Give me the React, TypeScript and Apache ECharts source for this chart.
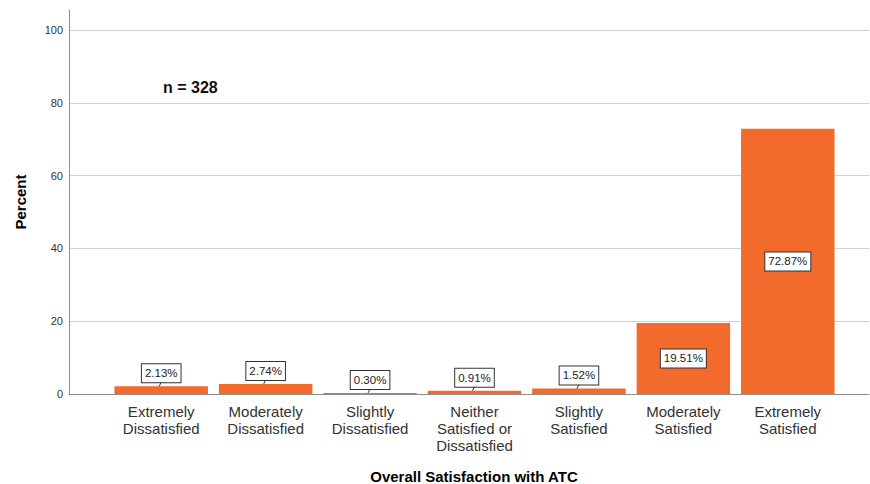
import React, { useEffect, useRef } from "react";
import * as echarts from "echarts";

const categories = [
  "Extremely\nDissatisfied",
  "Moderately\nDissatisfied",
  "Slightly\nDissatisfied",
  "Neither\nSatisfied or\nDissatisfied",
  "Slightly\nSatisfied",
  "Moderately\nSatisfied",
  "Extremely\nSatisfied",
];
const percents = [2.13, 2.74, 0.3, 0.91, 1.52, 19.51, 72.87];
const yTicks = [0, 20, 40, 60, 80, 100];
const sampleNote = "n = 328";
const xTitle = "Overall Satisfaction with ATC";
const yTitle = "Percent";

const FONT = "'Liberation Sans', Arial, sans-serif";
const ORANGE = "#F26A2C";
const INSIDE_THRESHOLD = 10;

export default function App() {
  const ref = useRef<HTMLDivElement>(null);
  useEffect(() => {
    if (!ref.current) return;
    const chart = echarts.init(ref.current, undefined, { renderer: "svg" });
    const yMax = 105.5;
    const top = 10;
    const bottom = 90;
    chart.setOption({
      animation: false,
      textStyle: { fontFamily: FONT },
      grid: [
        { left: 69, right: 1, top, bottom },
        { left: 109, right: 30, top, bottom },
      ],
      xAxis: [
        {
          gridIndex: 0,
          type: "value",
          min: 0,
          max: 1,
          axisLine: { show: true, onZero: false, lineStyle: { color: "#8c8c8c", width: 1 } },
          axisTick: { show: false },
          axisLabel: { show: false },
          splitLine: { show: false },
        },
        {
          gridIndex: 1,
          type: "category",
          data: categories,
          axisLine: { show: false },
          axisTick: { show: false },
          axisLabel: {
            interval: 0,
            fontSize: 15,
            lineHeight: 17,
            color: "#333",
            margin: 9,
            fontFamily: FONT,
          },
        },
      ],
      yAxis: [
        {
          gridIndex: 0,
          type: "value",
          min: 0,
          max: yMax,
          interval: 20,
          axisLine: { show: true, lineStyle: { color: "#8c8c8c", width: 1 } },
          axisTick: { show: false },
          axisLabel: {
            fontSize: 11,
            color: "#333",
            margin: 6,
            fontFamily: FONT,
            showMaxLabel: false,
            formatter: (v: number) => (yTicks.includes(v) ? String(v) : ""),
          },
          splitLine: {
            show: true,
            showMinLine: false,
            showMaxLine: false,
            lineStyle: { color: "#cfcfcf", width: 1 },
          },
        },
        {
          gridIndex: 1,
          type: "value",
          min: 0,
          max: yMax,
          show: false,
        },
      ],
      series: [
        {
          type: "bar",
          xAxisIndex: 1,
          yAxisIndex: 1,
          barCategoryGap: "10.5%",
          itemStyle: { color: ORANGE },
          data: percents.map((v) => ({
            value: v,
            label: {
              position: v > INSIDE_THRESHOLD ? "inside" : "top",
              distance: 4,
            },
          })),
          label: {
            show: true,
            formatter: (p: any) => Number(p.value).toFixed(2) + "%",
            fontSize: 11.5,
            lineHeight: 12,
            color: "#222",
            fontFamily: FONT,
            backgroundColor: "#fff",
            borderColor: "#333",
            borderWidth: 1,
            padding: [3, 3, 3, 3],
          },
          z: 2,
        },
        {
          type: "custom",
          xAxisIndex: 1,
          yAxisIndex: 1,
          silent: true,
          z: 3,
          data: percents.map((v, i) => [i, v]),
          renderItem: (params: any, api: any) => {
            const v = api.value(1);
            if (v > INSIDE_THRESHOLD) return null;
            const p = api.coord([api.value(0), v]);
            return {
              type: "line",
              shape: { x1: p[0] - 2, y1: p[1], x2: p[0], y2: p[1] - 4 },
              style: { stroke: "#333", lineWidth: 1 },
            };
          },
        },
      ],
      graphic: [
        {
          type: "text",
          x: 20,
          y: 202,
          rotation: Math.PI / 2,
          style: {
            text: yTitle,
            font: `bold 15px ${FONT}`,
            fill: "#000",
            align: "center",
            verticalAlign: "middle",
          },
        },
        {
          type: "text",
          x: 474,
          y: 476,
          style: {
            text: xTitle,
            font: `bold 15px ${FONT}`,
            fill: "#000",
            align: "center",
            verticalAlign: "middle",
          },
        },
        {
          type: "text",
          x: 163,
          y: 87,
          style: {
            text: sampleNote,
            font: `bold 16px ${FONT}`,
            fill: "#111",
            align: "left",
            verticalAlign: "middle",
          },
        },
      ],
    });
    return () => chart.dispose();
  }, []);
  return (
    <div
      ref={ref}
      style={{ position: "absolute", left: 0, top: 0, width: 870, height: 484 }}
    />
  );
}
